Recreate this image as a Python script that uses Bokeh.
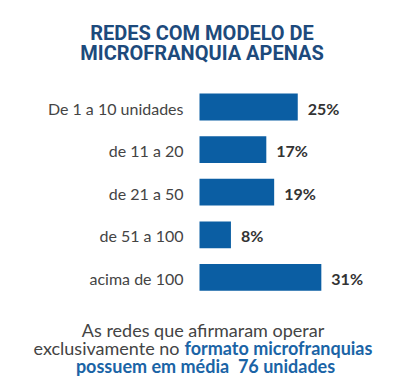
from bokeh.plotting import figure
from bokeh.models import Range1d, Label, ColumnDataSource
from bokeh.core.properties import value
from bokeh.embed import file_html
from bokeh.resources import INLINE

categories = ["De 1 a 10 unidades", "de 11 a 20", "de 21 a 50", "de 51 a 100", "acima de 100"]
values = [25, 17, 19, 8, 31]
value_labels = ["25%", "17%", "19%", "8%", "31%"]
title_lines = ["REDES COM MODELO DE", "MICROFRANQUIA APENAS"]
note_line1 = "As redes que afirmaram operar"
note_line2a = "exclusivamente no"
note_line2b = "formato microfranquias"
note_line3 = "possuem em média\u00a0 76 unidades"

W, H = 408, 390
PX = 3.93      # pixels per percent
X0 = 199       # pixel of the bars' base
PY = 42.6      # pixels per category row
Y0 = 106.5     # pixel of first row centre from top

p = figure(width=W, height=H, output_backend="svg", toolbar_location=None,
           x_range=Range1d(-X0 / PX, (W - X0) / PX),
           y_range=Range1d((H - Y0) / PY, -Y0 / PY),
           min_border=0, x_axis_type=None, y_axis_type=None)
p.grid.visible = False
p.outline_line_color = None
p.background_fill_color = "white"
p.border_fill_color = "white"

src = ColumnDataSource(dict(idx=list(range(len(categories))), cat=categories,
                            val=values, lab=value_labels))

p.hbar(y="idx", left=0, right="val", height=0.63, source=src,
       fill_color="#0b5ea3", line_color=None)

p.text(x=0, y="idx", text="cat", source=src, x_offset=-16, y_offset=1,
       text_align="right", text_baseline="middle",
       text_font=value("Lato"), text_font_size="16px", text_color="#444444")

p.text(x="val", y="idx", text="lab", source=src, x_offset=10, y_offset=1,
       text_align="left", text_baseline="middle",
       text_font=value("Lato"), text_font_style="bold",
       text_font_size="16px", text_color="#333333")

title_color = "#1d4a7c"
for line, yb in zip(title_lines, [H - 32, H - 52]):
    p.add_layout(Label(x=201.5, y=yb, x_units="screen", y_units="screen",
                       text=line, text_align="center", text_baseline="alphabetic",
                       text_font="Roboto", text_font_style="bold",
                       text_font_size="20px", text_color=title_color))

gray = "#444444"
blue = "#1a64a6"
p.add_layout(Label(x=202.5, y=H - 340, x_units="screen", y_units="screen",
                   text=note_line1, text_align="center", text_baseline="bottom",
                   text_font="Lato", text_font_size="18px", text_color=gray))
p.add_layout(Label(x=179, y=H - 358, x_units="screen", y_units="screen",
                   text=note_line2a, text_align="right", text_baseline="bottom",
                   text_font="Lato", text_font_size="18px", text_color=gray))
p.add_layout(Label(x=184, y=H - 358, x_units="screen", y_units="screen",
                   text=note_line2b, text_align="left", text_baseline="bottom",
                   text_font="Lato", text_font_style="bold",
                   text_font_size="18px", text_color=blue))
p.add_layout(Label(x=205, y=H - 376, x_units="screen", y_units="screen",
                   text=note_line3, text_align="center", text_baseline="bottom",
                   text_font="Lato", text_font_style="bold",
                   text_font_size="18px", text_color=blue))

open("out.html", "w").write(file_html(p, INLINE))
